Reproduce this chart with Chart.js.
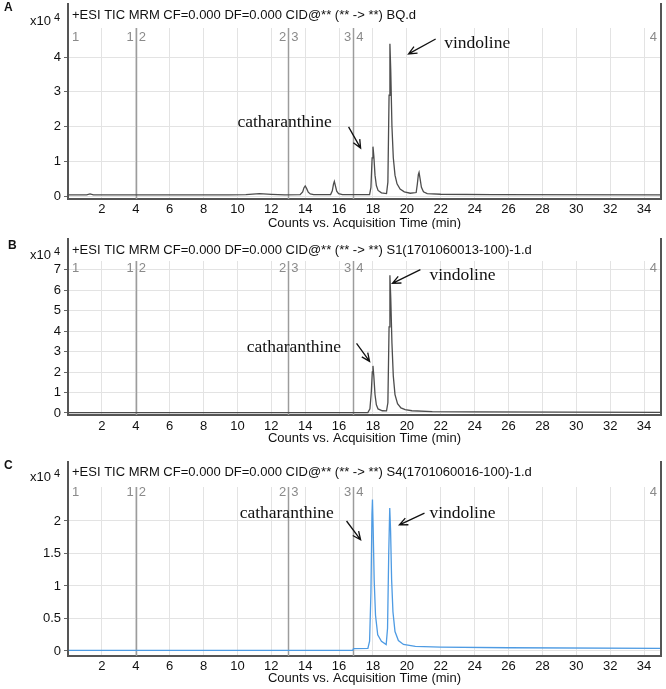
<!DOCTYPE html>
<html>
<head>
<meta charset="utf-8">
<title>TIC MRM chromatograms</title>
<script src="https://cdn.jsdelivr.net/npm/chart.js@4.4.0/dist/chart.umd.min.js"></script>
<style>
  body { margin: 0; background: #fff; width: 666px; height: 689px; position: relative; overflow: hidden; }
  canvas { position: absolute; left: 0; }
</style>
</head>
<body>
<canvas id="chartA" width="666" height="229" style="top:0px"></canvas>
<canvas id="chartB" width="666" height="227" style="top:229px"></canvas>
<canvas id="chartC" width="666" height="233" style="top:456px"></canvas>
<script>
// acquisition time (min) and counts (x10^4)
const timeA = [0.05, 1.1, 1.3, 1.5, 9.5, 10.5, 11.3, 12.0, 12.8, 13.7, 13.85, 13.93, 14.0, 14.08, 14.18, 14.3, 14.5,
  15.5, 15.6, 15.67, 15.72, 15.78, 15.86, 15.97, 16.2, 17.8, 17.88, 17.95, 18.0, 18.05, 18.12, 18.2, 18.3, 18.5, 18.8, 18.88,
  18.95, 19.0, 19.05, 19.12, 19.2, 19.3, 19.42, 19.6, 19.85, 20.2, 20.55, 20.62, 20.68, 20.72, 20.78, 20.86, 20.98, 21.2, 22.0, 25.0, 35.0];
const countsA = [0.03, 0.03, 0.06, 0.03, 0.03, 0.04, 0.07, 0.05, 0.03, 0.04, 0.12, 0.24, 0.29, 0.22, 0.11, 0.06, 0.04,
  0.04, 0.15, 0.34, 0.42, 0.3, 0.14, 0.07, 0.04, 0.04, 0.25, 1.1, 1.42, 1.15, 0.6, 0.3, 0.16, 0.09, 0.07, 0.4,
  2.9, 4.38, 3.6, 2.0, 1.1, 0.6, 0.35, 0.2, 0.12, 0.08, 0.1, 0.35, 0.62, 0.68, 0.5, 0.25, 0.12, 0.07, 0.05, 0.04, 0.03];

const timeB = [0.05, 17.7, 17.82, 17.9, 17.96, 18.0, 18.05, 18.12, 18.2, 18.3, 18.55, 18.8, 18.88, 18.95, 19.0,
  19.05, 19.12, 19.2, 19.3, 19.45, 19.65, 19.9, 20.3, 21.5, 24.0, 35.0];
const countsB = [0.02, 0.02, 0.2, 1.0, 2.0, 2.3, 1.8, 0.9, 0.4, 0.2, 0.11, 0.1, 0.5, 4.2, 6.72,
  5.6, 3.4, 1.8, 0.9, 0.45, 0.25, 0.16, 0.11, 0.07, 0.05, 0.03];

const timeC = [0.05, 16.8, 16.85, 17.7, 17.8, 17.88, 17.94, 17.97, 18.01, 18.07, 18.15, 18.28, 18.5, 18.78, 18.86,
  18.93, 18.99, 19.04, 19.1, 19.18, 19.3, 19.5, 19.8, 20.5, 22.0, 26.0, 35.0];
const countsC = [0.01, 0.01, 0.035, 0.04, 0.15, 0.9, 2.1, 2.33, 1.9, 1.1, 0.55, 0.25, 0.15, 0.1, 0.35,
  1.5, 2.2, 1.85, 1.1, 0.6, 0.3, 0.16, 0.1, 0.07, 0.06, 0.05, 0.04];

const xTicks = [2, 4, 6, 8, 10, 12, 14, 16, 18, 20, 22, 24, 26, 28, 30, 32, 34];
const yTicksA = [0, 1, 2, 3, 4];
const yTicksB = [0, 1, 2, 3, 4, 5, 6, 7];
const yTicksC = [0, 0.5, 1, 1.5, 2];

// MRM segment boundaries (min) and segment numbers
const segmentTimes = [4.0, 13.0, 16.83];
const segmentNames = ['1', '2', '3', '4'];

const fileA = 'BQ.d';
const fileB = 'S1(1701060013-100)-1.d';
const fileC = 'S4(1701060016-100)-1.d';
const titlePrefix = '+ESI TIC MRM CF=0.000 DF=0.000 CID@** (** -> **) ';

const sansFont = '"Liberation Sans", Arial, sans-serif';
const serifFont = '"Liberation Serif", "Times New Roman", serif';

function drawArrow(ctx, x1, y1, x2, y2) {
  const a = Math.atan2(y2 - y1, x2 - x1);
  const h = 9;
  ctx.beginPath();
  ctx.moveTo(x1, y1);
  ctx.lineTo(x2, y2);
  ctx.moveTo(x2 - h * Math.cos(a - 0.42), y2 - h * Math.sin(a - 0.42));
  ctx.lineTo(x2, y2);
  ctx.lineTo(x2 - h * Math.cos(a + 0.42), y2 - h * Math.sin(a + 0.42));
  ctx.stroke();
}

const chromoPlugin = {
  id: 'chromo',
  beforeDatasetsDraw(chart, args, o) {
    const { ctx, chartArea, scales: { x } } = chart;
    ctx.save();
    ctx.strokeStyle = '#9c9c9c';
    ctx.lineWidth = 1.5;
    segmentTimes.forEach(t => {
      const px = Math.round(x.getPixelForValue(t)) + 0.5;
      ctx.beginPath();
      ctx.moveTo(px, chartArea.top);
      ctx.lineTo(px, chartArea.bottom);
      ctx.stroke();
    });
    // segment numbers
    ctx.fillStyle = '#8a8a8a';
    ctx.font = '13px ' + sansFont;
    ctx.textBaseline = 'middle';
    ctx.textAlign = 'left';
    ctx.fillText(segmentNames[0], chartArea.left + 4, o.segY);
    segmentTimes.forEach((t, i) => {
      const px = x.getPixelForValue(t);
      ctx.textAlign = 'right';
      ctx.fillText(segmentNames[i], px - 2, o.segY);
      ctx.textAlign = 'left';
      ctx.fillText(segmentNames[i + 1], px + 3, o.segY);
    });
    ctx.textAlign = 'right';
    ctx.fillText(segmentNames[3], chartArea.right - 4, o.segY);
    ctx.restore();
  },
  afterDraw(chart, args, o) {
    const { ctx, chartArea, scales: { x, y } } = chart;
    ctx.save();
    // axis line and right frame reaching up past the title
    ctx.strokeStyle = '#555';
    ctx.lineWidth = 2;
    ctx.beginPath();
    ctx.moveTo(chartArea.left, o.frameTop);
    ctx.lineTo(chartArea.left, chartArea.top + 1);
    ctx.moveTo(chartArea.right, o.frameTop);
    ctx.lineTo(chartArea.right, chartArea.bottom);
    ctx.stroke();

    ctx.fillStyle = '#111';
    ctx.textBaseline = 'middle';
    ctx.textAlign = 'left';
    ctx.font = '13px ' + sansFont;
    ctx.fillText(o.title, chartArea.left + 4, o.titleY);
    ctx.fillText('x10', 30, o.expY);
    ctx.font = '11px ' + sansFont;
    ctx.fillText('4', 54, o.expY - 3);
    ctx.font = 'bold 12px ' + sansFont;
    ctx.fillText(o.letter, o.letterX, o.letterY);

    ctx.font = '13px ' + sansFont;
    ctx.textAlign = 'center';
    ctx.fillText('Counts vs. Acquisition Time (min)', (chartArea.left + chartArea.right) / 2, o.axisTitleY);

    // peak annotations
    ctx.font = '17.5px ' + serifFont;
    ctx.textAlign = 'left';
    ctx.strokeStyle = '#111';
    ctx.lineWidth = 1.3;
    o.notes.forEach(n => {
      ctx.fillText(n.text, x.getPixelForValue(n.t), y.getPixelForValue(n.v));
      drawArrow(ctx, x.getPixelForValue(n.a[0]), y.getPixelForValue(n.a[1]),
        x.getPixelForValue(n.a[2]), y.getPixelForValue(n.a[3]));
    });
    ctx.restore();
  }
};

function makeChart(id, times, counts, yTicks, color, p) {
  const canvas = document.getElementById(id);
  const H = canvas.height;
  return new Chart(canvas, {
    type: 'line',
    data: {
      datasets: [{
        data: times.map((t, i) => ({ x: t, y: counts[i] })),
        borderColor: color,
        borderWidth: 1.3,
        pointRadius: 0,
        tension: 0,
        fill: false
      }]
    },
    options: {
      responsive: false,
      animation: false,
      events: [],
      layout: { padding: { top: p.gridTop, right: 5, left: 0, bottom: 0 } },
      plugins: {
        legend: { display: false },
        tooltip: { enabled: false },
        chromo: p
      },
      scales: {
        x: {
          type: 'linear',
          min: 0,
          max: 35,
          afterBuildTicks: s => { s.ticks = xTicks.map(v => ({ value: v })); },
          afterFit: s => { s.height = H - p.axisBottom; },
          grid: { color: '#e3e3e3', drawTicks: false },
          border: { color: '#555', width: 2 },
          ticks: { color: '#111', padding: p.tickPad, maxRotation: 0, autoSkip: false,
            font: { family: sansFont, size: 13 } }
        },
        y: {
          min: p.min,
          max: p.max,
          afterBuildTicks: s => { s.ticks = yTicks.map(v => ({ value: v })); },
          afterFit: s => { s.width = 68; },
          grid: { color: '#e3e3e3', tickColor: '#666', tickLength: 4 },
          border: { color: '#555', width: 2 },
          ticks: { color: '#111', padding: 3, font: { family: sansFont, size: 13 },
            callback: v => String(v) }
        }
      }
    },
    plugins: [chromoPlugin]
  });
}

makeChart('chartA', timeA, countsA, yTicksA, '#4d4d4d', {
  frameTop: 3, titleY: 15, gridTop: 28, axisBottom: 199, tickPad: 3, segY: 37, axisTitleY: 223,
  letter: 'A', letterX: 4, letterY: 8, expY: 21, min: -0.086, max: 4.835,
  title: titlePrefix + fileA,
  notes: [
    { text: 'catharanthine', t: 10.0, v: 2.13, a: [16.56, 1.99, 17.27, 1.38] },
    { text: 'vindoline', t: 22.2, v: 4.4, a: [21.7, 4.52, 20.1, 4.09] }
  ]
});

makeChart('chartB', timeB, countsB, yTicksB, '#4d4d4d', {
  frameTop: 9, titleY: 21, gridTop: 32, axisBottom: 186, tickPad: 4, segY: 39, axisTitleY: 209,
  letter: 'B', letterX: 8, letterY: 17, expY: 26, min: -0.098, max: 7.42,
  title: titlePrefix + fileB,
  notes: [
    { text: 'catharanthine', t: 10.55, v: 3.21, a: [17.03, 3.4, 17.8, 2.52] },
    { text: 'vindoline', t: 21.33, v: 6.72, a: [20.8, 7.0, 19.15, 6.33] }
  ]
});

makeChart('chartC', timeC, countsC, yTicksC, '#4e9be3', {
  frameTop: 5, titleY: 16, gridTop: 31, axisBottom: 200, tickPad: 3, segY: 36, axisTitleY: 222,
  letter: 'C', letterX: 4, letterY: 10, expY: 21, min: -0.077, max: 2.523,
  title: titlePrefix + fileC,
  notes: [
    { text: 'catharanthine', t: 10.13, v: 2.12, a: [16.44, 2.0, 17.27, 1.71] },
    { text: 'vindoline', t: 21.33, v: 2.12, a: [21.04, 2.12, 19.56, 1.94] }
  ]
});
</script>
</body>
</html>
